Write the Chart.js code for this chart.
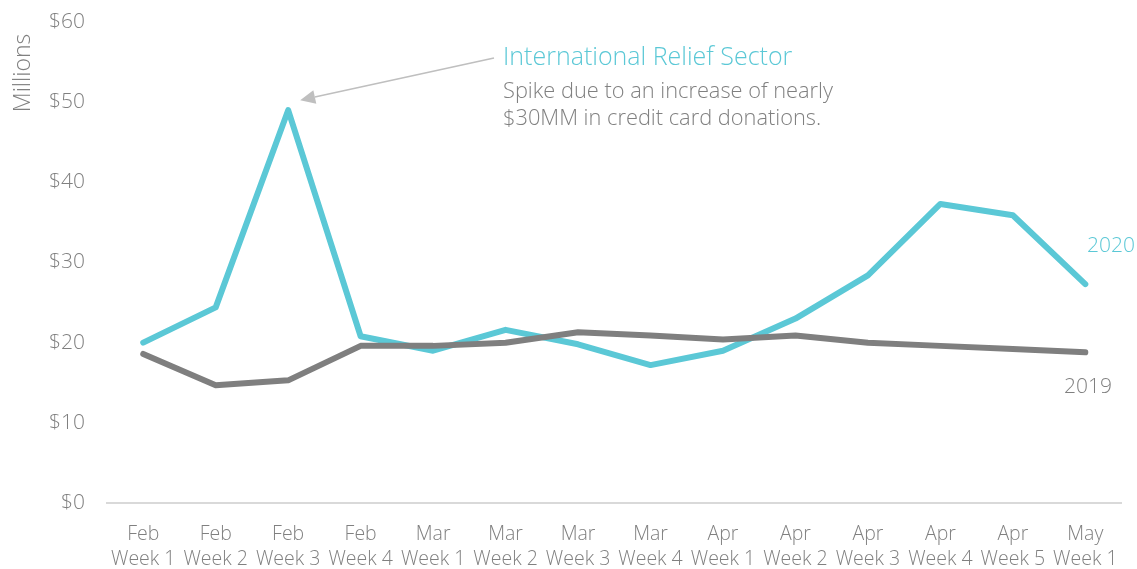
<!DOCTYPE html>
<html>
<head>
<meta charset="utf-8">
<script src="https://cdn.jsdelivr.net/npm/chart.js@4.4.0/dist/chart.umd.min.js"></script>
<style>
  html, body { margin: 0; padding: 0; background: #fff; }
  #wrap { width: 1137px; height: 569px; position: relative; }
</style>
</head>
<body>
<div id="wrap"><canvas id="donationsChart"></canvas></div>
<script>
// Weekly donations, in millions of dollars
const weekLabels = [
    ['Feb', 'Week 1'], ['Feb', 'Week 2'], ['Feb', 'Week 3'], ['Feb', 'Week 4'],
    ['Mar', 'Week 1'], ['Mar', 'Week 2'], ['Mar', 'Week 3'], ['Mar', 'Week 4'],
    ['Apr', 'Week 1'], ['Apr', 'Week 2'], ['Apr', 'Week 3'], ['Apr', 'Week 4'], ['Apr', 'Week 5'],
    ['May', 'Week 1']
];
const values2020 = [20.0, 24.4, 49.0, 20.8, 19.0, 21.6, 19.8, 17.2, 19.0, 23.0, 28.4, 37.3, 35.9, 27.3];
const values2019 = [18.6, 14.7, 15.3, 19.6, 19.6, 20.0, 21.3, 20.9, 20.4, 20.9, 20.0, 19.6, 19.2, 18.8];
const yTicks = [0, 10, 20, 30, 40, 50, 60];

const CYAN = '#5BC8D6';
const GREY = '#7F7F7F';
const TEXT = '#808080';
const FONT = "'Open Sans', sans-serif";

Chart.defaults.font.family = FONT;
Chart.defaults.color = TEXT;

// Axis unit, callout text, arrow and series end labels
const notesPlugin = {
    id: 'notes',
    afterDatasetsDraw(chart) {
        const { ctx, scales: { x, y } } = chart;
        ctx.save();

        // unit label up the left side
        ctx.save();
        ctx.translate(30, 73);
        ctx.rotate(-Math.PI / 2);
        ctx.textAlign = 'center';
        ctx.textBaseline = 'alphabetic';
        ctx.fillStyle = TEXT;
        ctx.font = '300 23px ' + FONT;
        ctx.fillText('Millions', 0, 0);
        ctx.restore();

        // arrow pointing at the spike
        const tipX = x.getPixelForValue(2) + 12;
        const tipY = y.getPixelForValue(values2020[2]) - 10;
        const fromX = 494, fromY = 58;
        const ang = Math.atan2(tipY - fromY, tipX - fromX);
        const headLen = 15, headW = 7;
        const baseX = tipX - headLen * Math.cos(ang);
        const baseY = tipY - headLen * Math.sin(ang);
        ctx.strokeStyle = '#BFBFBF';
        ctx.fillStyle = '#BFBFBF';
        ctx.lineWidth = 1.5;
        ctx.beginPath();
        ctx.moveTo(fromX, fromY);
        ctx.lineTo(baseX, baseY);
        ctx.stroke();
        ctx.beginPath();
        ctx.moveTo(tipX, tipY);
        ctx.lineTo(baseX + headW * Math.sin(ang), baseY - headW * Math.cos(ang));
        ctx.lineTo(baseX - headW * Math.sin(ang), baseY + headW * Math.cos(ang));
        ctx.closePath();
        ctx.fill();

        ctx.textAlign = 'left';
        ctx.textBaseline = 'middle';
        ctx.fillStyle = CYAN;
        ctx.font = '300 25px ' + FONT;
        ctx.fillText('International Relief Sector', 503, 58);
        ctx.fillStyle = TEXT;
        ctx.font = '300 21.8px ' + FONT;
        ctx.fillText('Spike due to an increase of nearly', 503, 92);
        ctx.fillText('$30MM in credit card donations.', 503, 119);

        // series labels at the right end
        ctx.textAlign = 'center';
        ctx.font = '300 21px ' + FONT;
        ctx.fillStyle = CYAN;
        ctx.fillText('2020', 1111, 246);
        ctx.fillStyle = TEXT;
        ctx.fillText('2019', 1088, 387);
        ctx.restore();
    }
};

new Chart(document.getElementById('donationsChart'), {
    type: 'line',
    data: {
        labels: weekLabels,
        datasets: [
            {
                label: '2019',
                data: values2019,
                borderColor: GREY,
                borderWidth: 6,
                pointRadius: 0,
                tension: 0,
                borderCapStyle: 'round',
                borderJoinStyle: 'round'
            },
            {
                label: '2020',
                data: values2020,
                borderColor: CYAN,
                borderWidth: 6,
                pointRadius: 0,
                tension: 0,
                borderCapStyle: 'round',
                borderJoinStyle: 'round'
            }
        ]
    },
    options: {
        responsive: true,
        maintainAspectRatio: false,
        animation: false,
        layout: {
            padding: { top: 22, right: 13, bottom: 0, left: 0 }
        },
        plugins: {
            legend: { display: false },
            tooltip: { enabled: false }
        },
        scales: {
            x: {
                offset: true,
                afterFit(scale) {
                    scale.height = 66;
                },
                grid: { display: false, drawTicks: false },
                border: { display: true, color: '#D9D9D9', width: 2 },
                ticks: {
                    color: TEXT,
                    font: { size: 19.5, weight: '300', lineHeight: 1.28 },
                    padding: 19,
                    maxRotation: 0,
                    autoSkip: false
                }
            },
            y: {
                min: 0,
                max: 60,
                afterBuildTicks(scale) {
                    scale.ticks = yTicks.map(v => ({ value: v }));
                },
                afterFit(scale) {
                    scale.width = 107;
                    scale.paddingTop = 0;
                    scale.paddingBottom = 0;
                },
                grid: { display: false, drawTicks: false },
                border: { display: false },
                ticks: {
                    color: TEXT,
                    font: { size: 21, weight: '300' },
                    padding: 22,
                    callback: v => '$' + v
                }
            }
        }
    },
    plugins: [notesPlugin]
});
</script>
</body>
</html>
